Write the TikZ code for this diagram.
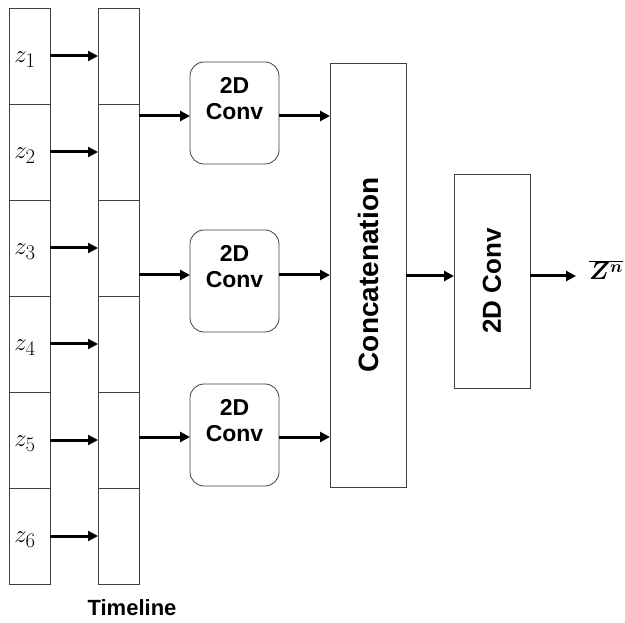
\documentclass[tikz,border=0pt]{standalone}
\usepackage{fontspec}
\setsansfont{Liberation Sans}
\usepackage{bm}
\usetikzlibrary{arrows.meta,positioning}
\begin{document}
\begin{tikzpicture}[x=1pt,y=-1pt,
  cell/.style={draw=black!75,line width=0.8pt,minimum width=41pt,minimum height=96pt,inner sep=0pt,outer sep=0pt},
  convbox/.style={draw=black!75,line width=0.8pt,rounded corners=14pt,minimum width=89pt,minimum height=102pt,inner sep=0pt,outer sep=0pt},
  bigbox/.style={draw=black!75,line width=0.8pt,minimum width=76pt,inner sep=0pt,outer sep=0pt},
  lbl/.style={font=\sffamily\bfseries\fontsize{23}{26}\selectfont,align=center},
  arr/.style={line width=3pt,-{Triangle[length=10pt,width=10pt]}},
  zl/.style={font=\fontsize{30}{34}\selectfont}
]
\useasboundingbox (0,0) rectangle (625,623);
\foreach \i in {1,...,6}{
  \node[cell] (L\i) at (29.5,{8+96*(\i-1)+48}) {};
  \node[cell] (R\i) at (118.5,{8+96*(\i-1)+48}) {};
  \node[zl] (z\i) at (25,{8+96*(\i-1)+52}) {$z_{\i}$};
  \draw[arr] (L\i.east) -- (R\i.west);
}
\node[convbox] (c1) at (234.5,113) {};
\node[convbox] (c2) at (234.5,281) {};
\node[convbox] (c3) at (234.5,435) {};
\foreach \i in {1,2,3}{
  \node[lbl,anchor=north] (t\i) at ([yshift=-12pt]c\i.north) {2D\\Conv};
}
\node[bigbox,minimum height=424pt] (cat) at (368,275) {};
\node[lbl,rotate=90,font=\sffamily\bfseries\fontsize{28}{32}\selectfont] (catl) at (368,275) {Concatenation};
\node[bigbox,minimum height=214pt] (fc) at (492,281) {};
\node[lbl,rotate=90,font=\sffamily\bfseries\fontsize{26}{30}\selectfont] (fcl) at (492,281) {2D Conv};
\coordinate (a1) at (139,116);
\coordinate (a2) at (139,275);
\coordinate (a3) at (139,437);
\draw[arr] (a1) -- (a1 -| c1.west);
\draw[arr] (a2) -- (a2 -| c2.west);
\draw[arr] (a3) -- (a3 -| c3.west);
\draw[arr] (a1 -| c1.east) -- (a1 -| cat.west);
\draw[arr] (a2 -| c2.east) -- (a2 -| cat.west);
\draw[arr] (a3 -| c3.east) -- (a3 -| cat.west);
\coordinate (a4) at (406,276);
\draw[arr] (a4) -- (a4 -| fc.west);
\node[anchor=west,inner sep=0pt,font=\fontsize{25}{28}\selectfont] (out) at (589,270) {$\overline{\bm{Z^n}}$};
\draw[arr] (a4 -| fc.east) -- (576,276);
\node[lbl,font=\sffamily\bfseries\fontsize{22}{26}\selectfont] (tl) at (132,608) {Timeline};
\end{tikzpicture}
\end{document}
